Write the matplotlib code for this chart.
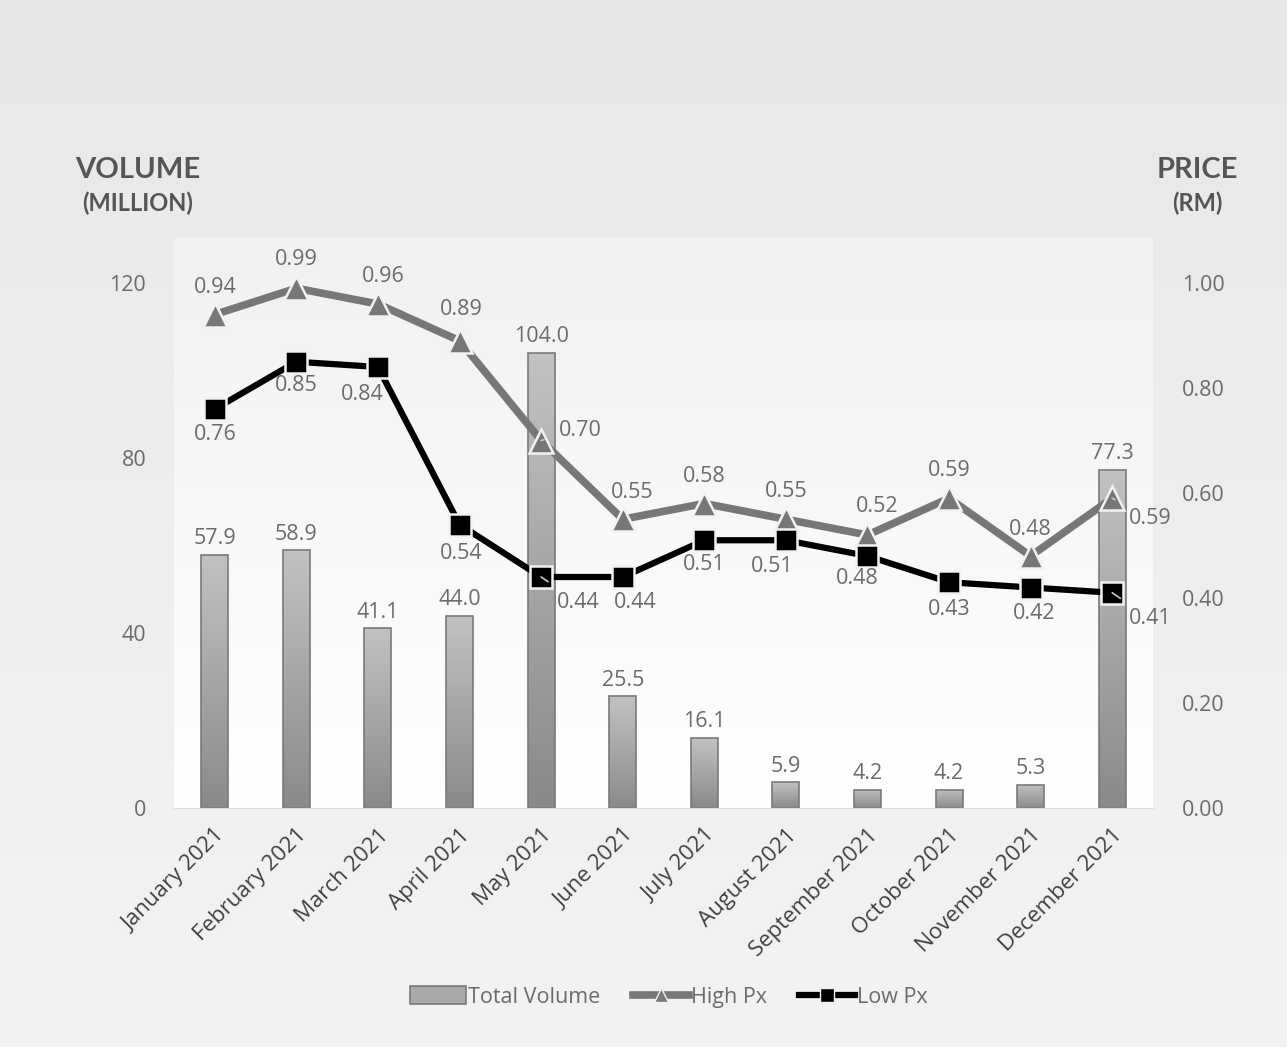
import numpy as np
import matplotlib
matplotlib.use("Agg")
import matplotlib.pyplot as plt
from matplotlib.lines import Line2D
from matplotlib.patches import Patch

months = ["January 2021", "February 2021", "March 2021", "April 2021", "May 2021",
          "June 2021", "July 2021", "August 2021", "September 2021", "October 2021",
          "November 2021", "December 2021"]
volume = [57.9, 58.9, 41.1, 44.0, 104.0, 25.5, 16.1, 5.9, 4.2, 4.2, 5.3, 77.3]
high_px = [0.94, 0.99, 0.96, 0.89, 0.70, 0.55, 0.58, 0.55, 0.52, 0.59, 0.48, 0.59]
low_px = [0.76, 0.85, 0.84, 0.54, 0.44, 0.44, 0.51, 0.51, 0.48, 0.43, 0.42, 0.41]
vol_ticks = [0, 40, 80, 120]
px_ticks = [0.0, 0.2, 0.4, 0.6, 0.8, 1.0]

# label offsets in pixels (dx, dy), and which ones get a leader line
high_off = [(0, 27), (0, 29), (5, 28), (2, 31), (39, 10), (9, 27), (0, 27), (0, 28),
            (10, 28), (0, 28), (0, 27), (38, -20)]
low_off = [(0, -26), (0, -24), (-16, -27), (2, -29), (37, -25), (12, -26), (0, -24),
           (-14, -26), (-10, -23), (0, -27), (3, -26), (38, -26)]
high_lead = [4, 11]
low_lead = [4, 11]

TXT = "#6b6b6b"
FS = 15.5
plt.rcParams["font.family"] = ["Open Sans", "DejaVu Sans"]

fig = plt.figure(figsize=(12.87, 10.47), dpi=100)

# figure background gradient
bg = fig.add_axes([0, 0, 1, 1], zorder=-10)
grad = np.linspace(0, 1, 256).reshape(-1, 1)
bg.imshow(grad, cmap=matplotlib.colors.LinearSegmentedColormap.from_list("bg", ["#e8e8e8", "#f3f3f3"]),
          aspect="auto", extent=[0, 1, 0, 1], origin="upper")
bg.axis("off")

ax = fig.add_axes([174 / 1287, 1 - 808 / 1047, 979 / 1287, 570 / 1047])
ax.imshow(grad, cmap=matplotlib.colors.LinearSegmentedColormap.from_list("pa", ["#f1f1f1", "#ffffff"]),
          aspect="auto", extent=[0, 1, 0, 1], origin="upper", transform=ax.transAxes, zorder=0)

x = np.arange(len(months))
bars = ax.bar(x, volume, width=0.33, facecolor="none", edgecolor="#7a7a7a", linewidth=1.2, zorder=2)
bar_cmap = matplotlib.colors.LinearSegmentedColormap.from_list("bar", ["#c2c2c3", "#8a8a8b"])
for b, v in zip(bars, volume):
    x0 = b.get_x()
    im = ax.imshow(grad, cmap=bar_cmap, aspect="auto",
                   extent=[x0, x0 + b.get_width(), 0, v], origin="upper", zorder=1.5)
    im.set_clip_path(b)
    ax.annotate(f"{v:.1f}", (b.get_x() + b.get_width() / 2, v), xytext=(0, 4),
                textcoords="offset points", ha="center", va="bottom", fontsize=FS, color=TXT)
ax.set_xlim(-0.5, 11.5)
ax.set_ylim(0, 570 / (175 / 40))

ax.set_yticks(vol_ticks)
ax.set_yticklabels([str(t) for t in vol_ticks])
ax.tick_params(axis="y", length=0, pad=20, labelsize=FS, labelcolor=TXT)
ax.set_xticks(x)
ax.set_xticklabels(months, rotation=45, ha="right", rotation_mode="anchor")
ax.tick_params(axis="x", length=0, pad=12, labelsize=16, labelcolor="#404040")
for s in ["top", "left", "right"]:
    ax.spines[s].set_visible(False)
ax.spines["bottom"].set_color("#dcdcdc")

ax2 = ax.twinx()
ax2.set_ylim(0, 570 / 525)
ax2.plot(x, high_px, color="#777778", linewidth=5.5, marker="^", markersize=17,
         markerfacecolor="#777778", markeredgecolor="#f2f2f2", markeredgewidth=1.8, zorder=3)
ax2.plot(x, low_px, color="#000000", linewidth=4.5, marker="s", markersize=16,
         markerfacecolor="#000000", markeredgecolor="#f2f2f2", markeredgewidth=1.8, zorder=4)

for vals, offs, leads in [(high_px, high_off, high_lead), (low_px, low_off, low_lead)]:
    for i, (v, (dx, dy)) in enumerate(zip(vals, offs)):
        ap = dict(arrowstyle="-", color="#c8c8c8", lw=1.2, shrinkA=9, shrinkB=0) if i in leads else None
        ax2.annotate(f"{v:.2f}", (i, v), xytext=(dx * 0.72, dy * 0.72), textcoords="offset points",
                     ha="center", va="center", fontsize=FS, color=TXT, arrowprops=ap, zorder=6)

ax2.set_yticks(px_ticks)
ax2.set_yticklabels([f"{t:.2f}" for t in px_ticks])
ax2.tick_params(axis="y", length=0, pad=21, labelsize=FS, labelcolor=TXT)
for s in ["top", "left", "right", "bottom"]:
    ax2.spines[s].set_visible(False)

# axis titles
title_font = ["Lato", "DejaVu Sans"]
fig.text(138 / 1287, 1 - 170 / 1047, "VOLUME", ha="center", va="center", fontsize=21,
         fontweight="bold", color="#555555", family=title_font)
fig.text(138 / 1287, 1 - 203 / 1047, "(MILLION)", ha="center", va="center", fontsize=17,
         fontweight="bold", color="#555555", family=title_font)
fig.text(1197 / 1287, 1 - 170 / 1047, "PRICE", ha="center", va="center", fontsize=21,
         fontweight="bold", color="#555555", family=title_font)
fig.text(1197 / 1287, 1 - 203 / 1047, "(RM)", ha="center", va="center", fontsize=17,
         fontweight="bold", color="#555555", family=title_font)

handles = [
    Patch(facecolor="#a9a9aa", edgecolor="#7a7a7a", linewidth=1.2, label="Total Volume"),
    Line2D([], [], color="#777778", linewidth=5.5, marker="^", markersize=10,
           markerfacecolor="#777778", markeredgecolor="#f2f2f2", label="High Px"),
    Line2D([], [], color="#000000", linewidth=4.5, marker="s", markersize=10,
           markerfacecolor="#000000", markeredgecolor="#f2f2f2", label="Low Px"),
]
fig.legend(handles=handles, loc="center", bbox_to_anchor=(669 / 1287, 1 - 997 / 1047), ncol=3,
           frameon=False, fontsize=FS, labelcolor=TXT, handlelength=2.6, handletextpad=0.1,
           columnspacing=1.5, handleheight=0.9)

fig.savefig("out.png", dpi=100)
